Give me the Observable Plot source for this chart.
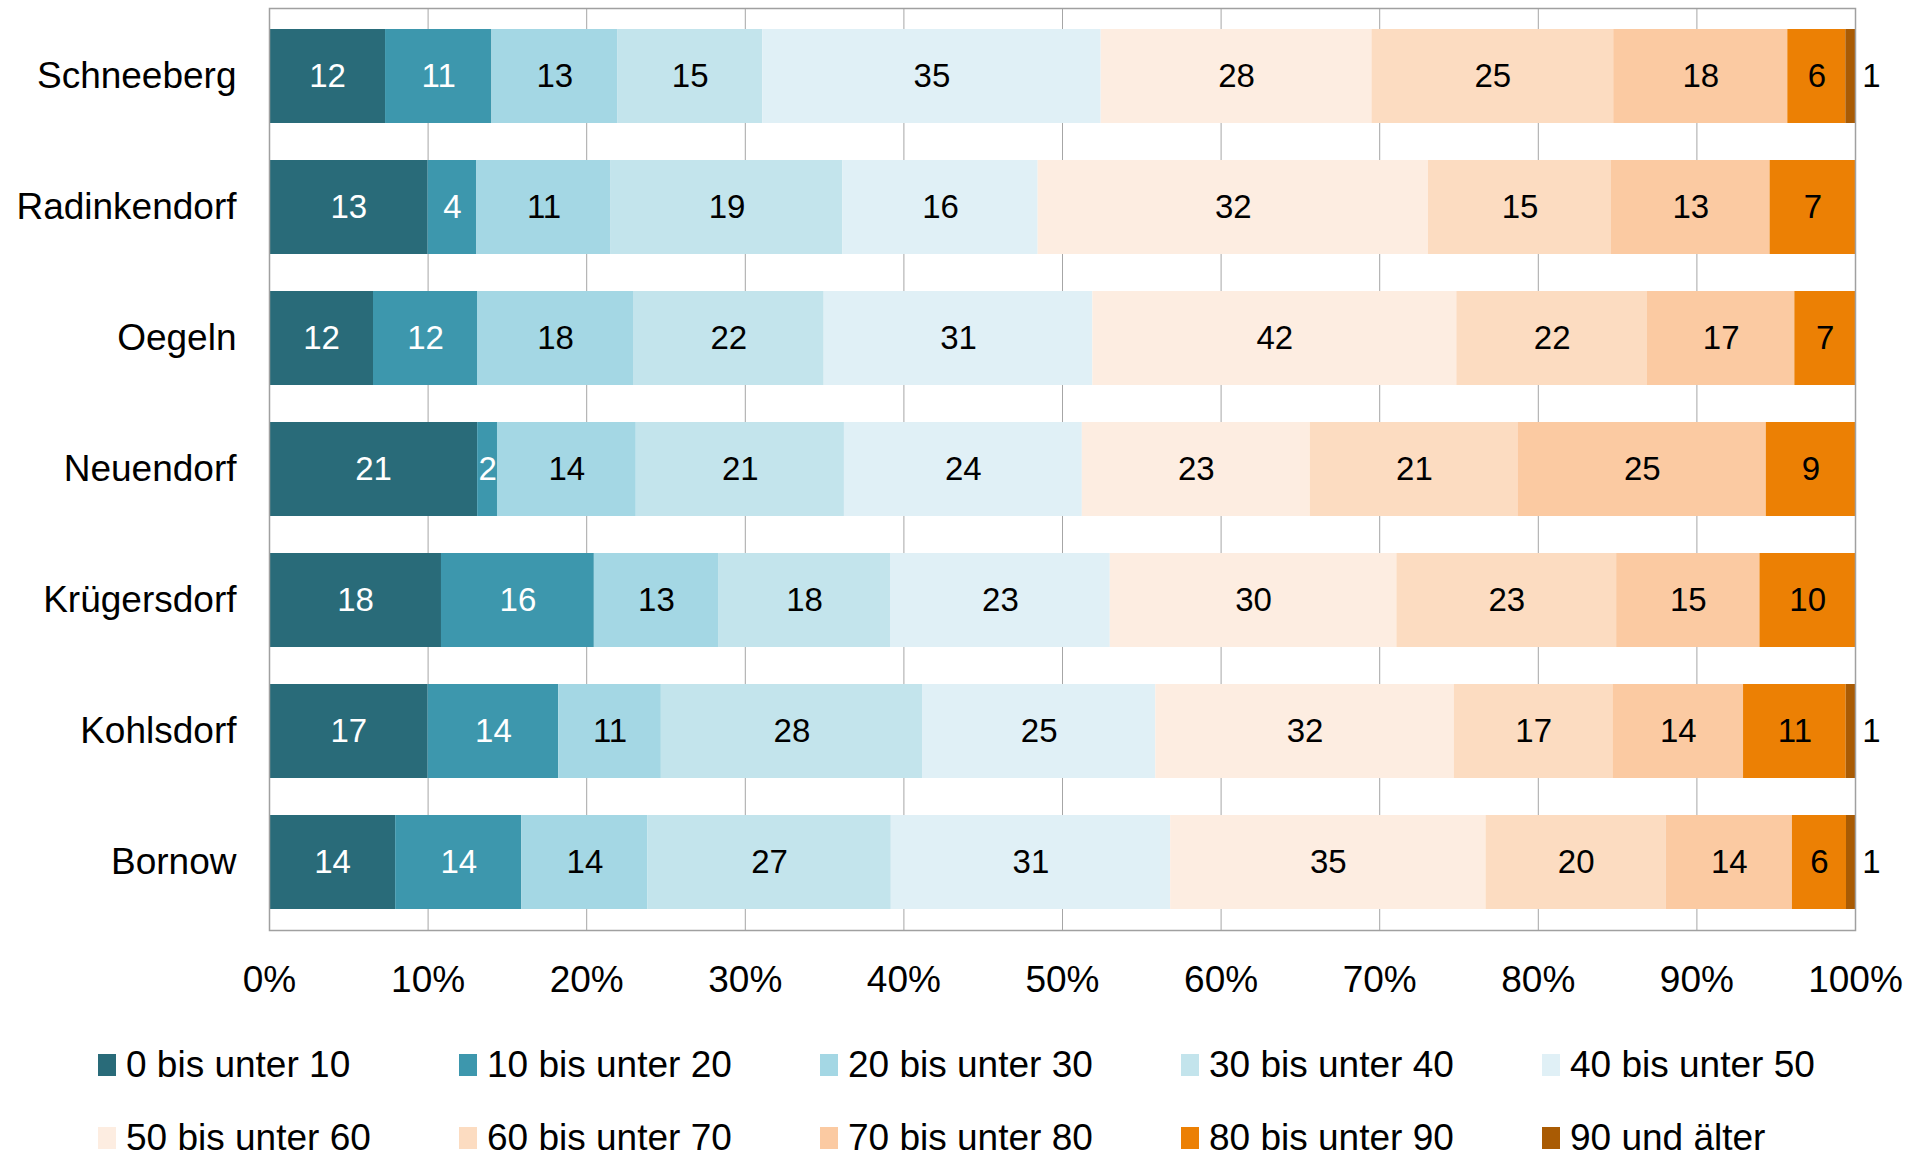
<!DOCTYPE html>
<html><head><meta charset="utf-8">
<script src="https://cdn.jsdelivr.net/npm/d3@7"></script>
<script src="https://cdn.jsdelivr.net/npm/@observablehq/plot@0.6"></script>
<style>
body{margin:0;background:#fff;font-family:"Liberation Sans",Arial,sans-serif;}
#legend{position:relative;margin-top:8px;padding-left:98px;display:flex;flex-wrap:wrap;width:1810px;}
.item{width:361px;height:73px;display:flex;align-items:center;font-size:37px;color:#000;}
.sw{width:18px;height:22px;margin-right:10px;flex:none;}
</style></head><body>
<div id="chart"></div>
<div id="legend"></div>
<script>
const places = ["Schneeberg","Radinkendorf","Oegeln","Neuendorf","Krügersdorf","Kohlsdorf","Bornow"];
const ageGroups = ["0 bis unter 10","10 bis unter 20","20 bis unter 30","30 bis unter 40","40 bis unter 50",
                   "50 bis unter 60","60 bis unter 70","70 bis unter 80","80 bis unter 90","90 und älter"];
const colors = ["#296b79","#3d97ad","#a4d7e4","#c3e4ec","#e0f0f6","#fdede1","#fcdcc1","#fbcaa2","#ec8004","#a95b04"];
const schneeberg   = [12,11,13,15,35,28,25,18,6,1];
const radinkendorf = [13,4,11,19,16,32,15,13,7,0];
const oegeln       = [12,12,18,22,31,42,22,17,7,0];
const neuendorf    = [21,2,14,21,24,23,21,25,9,0];
const kruegersdorf = [18,16,13,18,23,30,23,15,10,0];
const kohlsdorf    = [17,14,11,28,25,32,17,14,11,1];
const bornow       = [14,14,14,27,31,35,20,14,6,1];
const xTicks = [0,0.1,0.2,0.3,0.4,0.5,0.6,0.7,0.8,0.9,1];

const series = [schneeberg, radinkendorf, oegeln, neuendorf, kruegersdorf, kohlsdorf, bornow];
const rows = [];
places.forEach((p,i)=>series[i].forEach((v,j)=>rows.push({place:p, group:ageGroups[j], gi:j, value:v})));

const st = {x:"value", y:"place", z:"group", offset:"normalize"};
const chart = Plot.plot({
  width:1924, height:1020,
  marginLeft:269, marginRight:69, marginTop:8, marginBottom:90,
  style:{fontFamily:"'Liberation Sans', Arial, sans-serif", fontSize:"37px", color:"#000", background:"#fff"},
  x:{domain:[0,1], ticks:xTicks, tickFormat:d3.format(".0%"), tickSize:0, tickPadding:35, label:null},
  y:{domain:places, paddingInner:0.286, paddingOuter:0.145, align:0.5, tickSize:0, tickPadding:33, label:null},
  color:{domain:ageGroups, range:colors},
  marks:[
    Plot.ruleX(xTicks, {x:d=>d, stroke:"#a6a6a6", strokeWidth:1}),
    Plot.barX(rows, Plot.stackX({...st, fill:"group"})),
    Plot.text(rows, Plot.stackX({...st, text:d=>(d.gi<2 && d.value>0)?String(d.value):"", fill:"white", fontSize:33})),
    Plot.text(rows, Plot.stackX({...st, text:d=>(d.gi>=2 && d.gi<9 && d.value>0)?String(d.value):"", fill:"black", fontSize:33})),
    Plot.text(rows.filter(d=>d.gi===9 && d.value>0), {x:()=>1, y:"place", text:d=>String(d.value), dx:16, fill:"black", fontSize:33}),
    Plot.frame({stroke:"#a0a0a0", strokeWidth:1.5})
  ]
});
document.getElementById("chart").appendChild(chart);

const lg = document.getElementById("legend");
ageGroups.forEach((g,i)=>{
  const it = document.createElement("div"); it.className="item";
  const sw = document.createElement("span"); sw.className="sw"; sw.style.background=colors[i];
  const tx = document.createElement("span"); tx.textContent=g;
  it.appendChild(sw); it.appendChild(tx); lg.appendChild(it);
});
</script>
</body></html>
